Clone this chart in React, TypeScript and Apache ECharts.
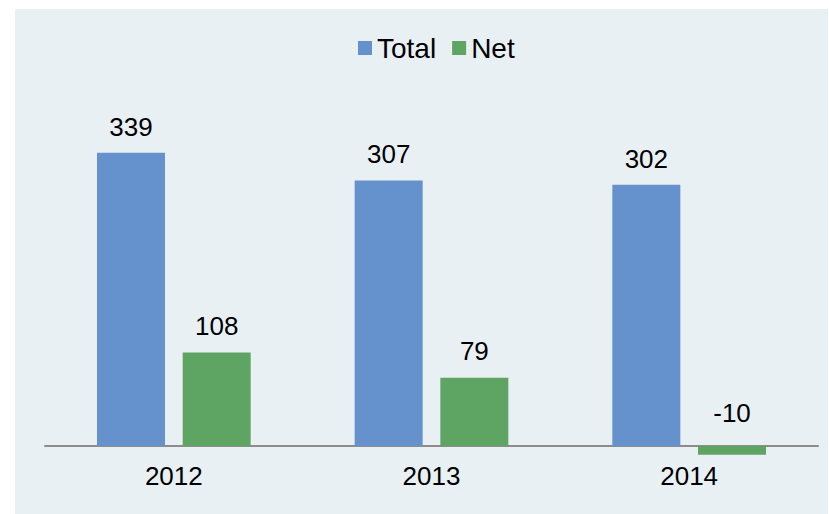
import React, { useEffect, useRef } from "react";
import * as echarts from "echarts";

const categories = ["2012", "2013", "2014"];
const totalValues = [339, 307, 302];
const netValues = [108, 79, -10];
const seriesNames = ["Total", "Net"];

export default function App() {
  const ref = useRef<HTMLDivElement>(null);
  useEffect(() => {
    if (!ref.current) return;
    const chart = echarts.init(ref.current, undefined, { renderer: "svg" });
    const font = "'Liberation Sans', Arial, sans-serif";
    const fs = 26;
    chart.setOption({
      animation: false,
      backgroundColor: "#ffffff",
      textStyle: { fontFamily: font },
      graphic: [
        {
          type: "rect",
          z: -10,
          silent: true,
          shape: { x: 15, y: 9, width: 813, height: 505 },
          style: { fill: "#e9f0f4" },
        },
      ],
      legend: {
        left: 353,
        top: 29,
        itemWidth: 14,
        itemHeight: 14,
        itemGap: 16,
        icon: "rect",
        data: seriesNames,
        textStyle: { fontSize: 28, color: "#000", fontFamily: font },
      },
      grid: { left: 45, right: 11, top: 100, bottom: 68, outerBoundsMode: "none", containLabel: false },
      xAxis: {
        type: "category",
        data: categories,
        axisLine: { show: true, onZero: false, lineStyle: { color: "#8c8c8c", width: 2 } },
        axisTick: { show: false },
        axisLabel: { fontSize: fs, color: "#000", margin: 17, fontFamily: font },
      },
      yAxis: {
        type: "value",
        min: 0,
        max: 400,
        show: false,
        splitLine: { show: false },
      },
      series: [
        {
          name: seriesNames[0],
          type: "bar",
          data: totalValues,
          barWidth: 68,
          barGap: "26%",
          clip: false,
          itemStyle: { color: "#6591cc" },
          label: { show: true, position: "top", distance: 13, fontSize: fs, color: "#000", fontFamily: font },
        },
        {
          name: seriesNames[1],
          type: "bar",
          data: netValues.map((v) =>
            v < 0 ? { value: v, label: { distance: 20 } } : { value: v }
          ),
          barWidth: 68,
          barGap: "26%",
          clip: false,
          z: 1,
          itemStyle: { color: "#5ea463" },
          label: { show: true, position: "top", distance: 14, fontSize: fs, color: "#000", fontFamily: font },
        },
      ],
    });
    return () => chart.dispose();
  }, []);
  return (
    <div
      ref={ref}
      style={{ position: "absolute", left: 0, top: 0, width: 829, height: 514 }}
    />
  );
}
